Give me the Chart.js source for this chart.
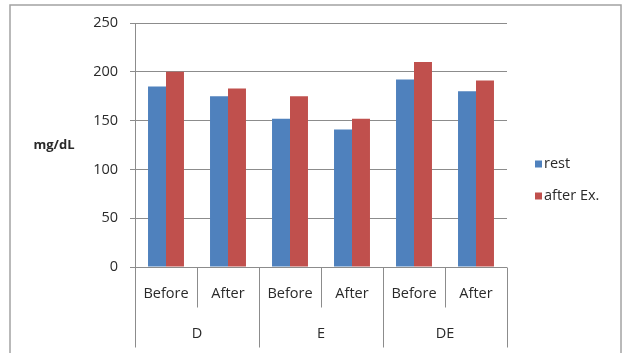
<!DOCTYPE html>
<html>
<head>
<meta charset="utf-8">
<script src="https://cdn.jsdelivr.net/npm/chart.js@4/dist/chart.umd.min.js"></script>
<style>
  html, body { margin: 0; padding: 0; background: #ffffff; }
  #wrap { width: 624px; height: 353px; }
</style>
</head>
<body>
<div id="wrap"><canvas id="c" width="624" height="353"></canvas></div>
<script>
// Diet groups and measurement phases (two-level category axis)
const groups = ['D', 'E', 'DE'];
const phases = ['Before', 'After'];

// Serum values, mg/dL, one per group/phase pair
const restValues = [185, 175, 152, 141, 192, 180];
const afterExValues = [200, 183, 175, 152, 210, 191];

const seriesNames = ['rest', 'after Ex.'];
const seriesColors = ['#4F81BD', '#C0504D'];

const yTicks = [0, 50, 100, 150, 200, 250];
const yTitle = 'mg/dL';

const FONT = '"Open Sans", "DejaVu Sans", sans-serif';
const FONT_SIZE = 14.5;
const AXIS_GRAY = '#8c8c8c';
const TEXT = '#2a2a2a';

const labels = [];
groups.forEach(g => phases.forEach(p => labels.push([p, g])));

// Frame, two-level category labels, axis title and legend
const decorations = {
  id: 'decorations',
  beforeDraw(chart) {
    const ctx = chart.ctx;
    ctx.save();
    ctx.fillStyle = '#ffffff';
    ctx.fillRect(0, 0, chart.width, chart.height);
    ctx.strokeStyle = '#a3a3a3';
    ctx.lineWidth = 1.5;
    ctx.strokeRect(10, 5, 611, 400);
    ctx.restore();
  },
  afterDraw(chart) {
    const ctx = chart.ctx;
    const x = chart.scales.x;
    const area = chart.chartArea;
    const n = labels.length;
    const step = (x.right - x.left) / n;
    const base = Math.round(area.bottom) + 0.5;

    ctx.save();
    ctx.strokeStyle = AXIS_GRAY;
    ctx.lineWidth = 1;

    // category axis line
    ctx.beginPath();
    ctx.moveTo(area.left, base);
    ctx.lineTo(area.right, base);
    ctx.stroke();

    // separators: short between phases, long between groups
    for (let i = 0; i <= n; i++) {
      const px = Math.round(x.getPixelForValue(i) - step / 2) + 0.5;
      const isGroupEdge = i % phases.length === 0;
      ctx.beginPath();
      ctx.moveTo(px, base);
      ctx.lineTo(px, isGroupEdge ? base + 80 : base + 40);
      ctx.stroke();
    }

    ctx.fillStyle = TEXT;
    ctx.font = FONT_SIZE + 'px ' + FONT;
    ctx.textAlign = 'center';
    ctx.textBaseline = 'middle';
    labels.forEach((lab, i) => {
      ctx.fillText(lab[0], x.getPixelForValue(i), base + 26);
    });
    groups.forEach((g, gi) => {
      const first = gi * phases.length;
      const last = first + phases.length - 1;
      const cx = (x.getPixelForValue(first) + x.getPixelForValue(last)) / 2;
      ctx.fillText(g, cx, base + 66);
    });

    // axis title
    ctx.font = 'bold 13px ' + FONT;
    ctx.fillText(yTitle, 54, 145);

    // legend
    ctx.font = FONT_SIZE + 'px ' + FONT;
    ctx.textAlign = 'left';
    chart.data.datasets.forEach((ds, i) => {
      const cy = 164 + i * 32;
      ctx.fillStyle = ds.backgroundColor;
      ctx.fillRect(535, cy - 3.5, 7, 7);
      ctx.fillStyle = TEXT;
      ctx.fillText(ds.label, 544, cy);
    });
    ctx.restore();
  }
};

new Chart(document.getElementById('c'), {
  type: 'bar',
  data: {
    labels: labels,
    datasets: [
      { label: seriesNames[0], data: restValues, backgroundColor: seriesColors[0] },
      { label: seriesNames[1], data: afterExValues, backgroundColor: seriesColors[1] }
    ]
  },
  options: {
    responsive: false,
    devicePixelRatio: 1,
    animation: false,
    layout: { padding: { top: 23, bottom: 86, left: 0, right: 117 } },
    datasets: { bar: { categoryPercentage: 0.58, barPercentage: 1.0 } },
    plugins: { legend: { display: false }, tooltip: { enabled: false } },
    scales: {
      x: { display: false },
      y: {
        min: yTicks[0],
        max: yTicks[yTicks.length - 1],
        afterBuildTicks(scale) { scale.ticks = yTicks.map(v => ({ value: v })); },
        afterFit(scale) { scale.width = 135; },
        ticks: { color: TEXT, padding: 12, font: { family: FONT, size: FONT_SIZE } },
        grid: { color: AXIS_GRAY, tickLength: 5, drawTicks: true },
        border: { color: AXIS_GRAY }
      }
    }
  },
  plugins: [decorations]
});
</script>
</body>
</html>
